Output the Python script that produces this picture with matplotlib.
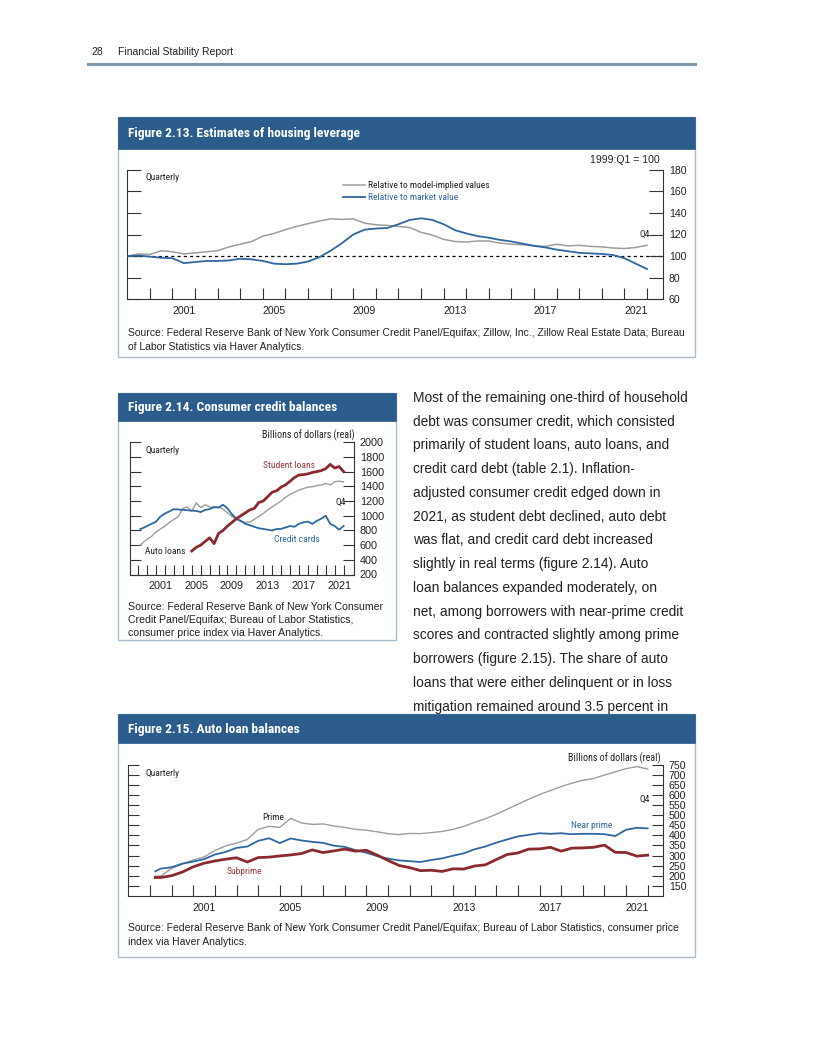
import numpy as np
import matplotlib
matplotlib.use("Agg")
import matplotlib.pyplot as plt
from matplotlib import font_manager as fm
from matplotlib.patches import Rectangle
from matplotlib.lines import Line2D

# ---------------- data ----------------
# Figure 2.13 (semiannual readings, 1999:Q1 = 100)
t13 = np.arange(1999.0, 2022.01, 0.5)
model_implied = [100, 102, 101.5, 105, 104, 102, 103, 104, 105, 108.5, 111, 113.5,
                 118.5, 121, 124.5, 127.5, 130, 132.5, 134.5, 134, 134.5, 130.5, 129, 128.5,
                 127.5, 126.5, 122, 119.5, 115.5, 113.5, 113, 114, 114, 112, 111, 110.5,
                 109.5, 109, 111, 109.5, 110, 109, 108.5, 107.5, 107, 108, 110]
market_value = [100, 100.5, 99.5, 98.5, 98, 93.5, 94.5, 95.5, 95.5, 96, 97.5, 97,
                95.5, 93, 92.5, 93, 95, 99, 105, 112, 120, 124.5, 125.5, 126,
                129.5, 133.5, 135, 133.5, 129.5, 124, 121, 118.5, 117, 115, 113.5, 111.5,
                109.5, 108, 106, 104.5, 103, 102.5, 102, 101, 98, 93, 88]

# Figure 2.14 (billions of real dollars)
t14 = np.concatenate(([1999.25], np.arange(1999.5, 2022.01, 0.5)))
credit_cards = [820, 830, 860, 890, 920, 990, 1030, 1060, 1090, 1085, 1080, 1075,
                1070, 1065, 1050, 1080, 1090, 1120, 1110, 1150, 1100, 1020, 960, 930,
                890, 870, 850, 830, 820, 810, 800, 820, 820, 840, 860, 850,
                890, 910, 920, 890, 930, 960, 1000, 890, 860, 810, 860]
auto_loans = [600, 630, 680, 720, 780, 820, 860, 910, 950, 990, 1100, 1120,
              1060, 1175, 1110, 1150, 1120, 1110, 1120, 1090, 1040, 990, 950, 920,
              910, 915, 950, 990, 1030, 1080, 1120, 1160, 1200, 1250, 1290, 1320,
              1350, 1370, 1390, 1395, 1410, 1420, 1440, 1420, 1465, 1470, 1460]
t14_student = np.arange(2005.0, 2022.01, 0.5)
student_loans = [520, 570, 600, 650, 700, 620, 760, 800, 860, 910, 960, 1000,
                 1040, 1080, 1100, 1180, 1200, 1260, 1320, 1340, 1390, 1420, 1470, 1520,
                 1555, 1560, 1570, 1590, 1600, 1615, 1640, 1700, 1650, 1670, 1600]

# Figure 2.15 (billions of real dollars)
t15 = np.concatenate(([1999.25], np.arange(1999.5, 2022.01, 0.5)))
prime = [198, 198, 236, 258, 278, 293, 325, 348, 362, 380, 430, 445,
         440, 485, 462, 455, 457, 447, 440, 430, 426, 418, 409, 404,
         410, 409, 414, 420, 430, 445, 465, 483, 505, 530, 555, 580,
         603, 623, 643, 660, 674, 683, 700, 716, 732, 742, 730]
near_prime = [222, 235, 242, 260, 270, 282, 305, 318, 338, 345, 373, 386,
              362, 385, 375, 368, 363, 349, 343, 327, 314, 297, 285, 276,
              272, 268, 278, 286, 299, 311, 331, 345, 364, 380, 395, 403,
              411, 408, 411, 406, 408, 408, 406, 397, 428, 438, 435]
subprime = [191, 191, 200, 218, 244, 262, 273, 282, 289, 268, 290, 292,
            298, 303, 310, 328, 315, 323, 332, 322, 326, 302, 276, 251,
            240, 225, 227, 221, 234, 233, 248, 254, 280, 305, 313, 332,
            333, 341, 322, 337, 338, 341, 352, 316, 315, 297, 302]

year_labels = ["2001", "2005", "2009", "2013", "2017", "2021"]
year_label_pos = [2001.5, 2005.5, 2009.5, 2013.5, 2017.5, 2021.5]

# ---------------- style ----------------
W, H = 816, 1056
names = {f.name for f in fm.fontManager.ttflist}


def pick(cands):
    for c in cands:
        if c in names:
            return c
    return "DejaVu Sans"


NARROW = pick(["Liberation Sans Narrow", "Roboto Condensed", "DejaVu Sans"])
SANS = pick(["Liberation Sans", "Arial", "DejaVu Sans"])
plt.rcParams["font.family"] = [SANS, "DejaVu Sans"]

BLUE = "#2f67a0"
RED = "#8a2a2e"
GREY = "#9d9d9d"
BAR = "#2b5c8b"
BORDER = "#a9bdd0"
TXT = "#222222"

fig = plt.figure(figsize=(W / 100, H / 100), dpi=100)


def fx(x):
    return x / W


def fy(y):
    return 1 - y / H


def rect(x0, y0, x1, y1):
    return [x0 / W, 1 - y1 / H, (x1 - x0) / W, (y1 - y0) / H]


def txt(x, y, s, **kw):
    kw.setdefault("va", "center")
    kw.setdefault("color", TXT)
    fig.text(fx(x), fy(y), s, **kw)


def box(x0, y0, x1, y1, bar_h, title):
    fig.add_artist(Rectangle((fx(x0), fy(y1)), (x1 - x0) / W, (y1 - y0) / H,
                             transform=fig.transFigure, facecolor="white",
                             edgecolor=BORDER, lw=1.0, zorder=0))
    fig.add_artist(Rectangle((fx(x0), fy(y0 + bar_h)), (x1 - x0) / W, bar_h / H,
                             transform=fig.transFigure, facecolor=BAR,
                             edgecolor=BAR, lw=0.5, zorder=1))
    txt(x0 + 10, y0 + bar_h / 2 + 0.5, title, color="white", fontsize=9.7,
        fontweight="bold", family=[NARROW, "DejaVu Sans"], zorder=2)


def style_axes(ax, xlim, ylim, yticks, xmajor, ylen, xlen, fs=7.6):
    ax.set_xlim(*xlim)
    ax.set_ylim(*ylim)
    ax.patch.set_alpha(0)
    ax.spines["top"].set_visible(False)
    for s in ["left", "right", "bottom"]:
        ax.spines[s].set_linewidth(0.8)
        ax.spines[s].set_color("#333333")
    ax.yaxis.set_ticks_position("both")
    ax.set_yticks(yticks)
    ax.tick_params(axis="y", which="major", direction="in", length=ylen, width=0.8,
                   color="#333333", labelleft=False, labelright=True,
                   labelsize=fs, pad=4, labelcolor=TXT)
    ax.set_xticks(xmajor)
    ax.set_xticks(year_label_pos, minor=True)
    ax.set_xticklabels(year_labels, minor=True)
    ax.tick_params(axis="x", which="major", direction="in", length=xlen, width=0.8,
                   color="#333333", labelbottom=False, top=False)
    ax.tick_params(axis="x", which="minor", length=0, labelsize=fs, pad=5,
                   labelcolor=TXT)


# ---------------- page header ----------------
txt(91, 52, "28", fontsize=7.5)
txt(118, 52, "Financial Stability Report", fontsize=7.5)
fig.add_artist(Line2D([fx(88), fx(695)], [fy(64), fy(64)], color="#7d97ab",
                      lw=2.2, transform=fig.transFigure))

# ---------------- Figure 2.13 ----------------
box(118, 117, 695, 357, 32, "Figure 2.13. Estimates of housing leverage")
ax1 = fig.add_axes(rect(127.3, 169.7, 663.3, 299.3))
style_axes(ax1, (1999.0, 2022.72), (60, 180), np.arange(60, 181, 20),
           np.arange(2000, 2023), 10, 8)
ax1.axhline(100, color="black", lw=0.9, ls=(0, (2.5, 2.5)), zorder=1)
ax1.plot(t13, model_implied, color=GREY, lw=1.1, zorder=2)
ax1.plot(t13, market_value, color=BLUE, lw=1.3, zorder=3)
txt(660, 160, "1999:Q1 = 100", fontsize=7.6, ha="right")
txt(145, 177, "Quarterly", fontsize=6.8, family=[NARROW, "DejaVu Sans"])
fig.add_artist(Line2D([fx(343), fx(365)], [fy(185), fy(185)], color=GREY, lw=1.1,
                      transform=fig.transFigure))
fig.add_artist(Line2D([fx(343), fx(365)], [fy(197), fy(197)], color=BLUE, lw=1.3,
                      transform=fig.transFigure))
txt(368, 185, "Relative to model-implied values", fontsize=6.8,
    family=[NARROW, "DejaVu Sans"])
txt(368, 197, "Relative to market value", fontsize=6.8, color=BLUE,
    family=[NARROW, "DejaVu Sans"])
txt(645, 234, "Q4", fontsize=6.8, ha="center", family=[NARROW, "DejaVu Sans"])
txt(128, 333, "Source: Federal Reserve Bank of New York Consumer Credit Panel/Equifax; "
    "Zillow, Inc., Zillow Real Estate Data; Bureau", fontsize=7.5)
txt(128, 347, "of Labor Statistics via Haver Analytics.", fontsize=7.5)

# ---------------- Figure 2.14 ----------------
box(118, 393, 396, 640, 28, "Figure 2.14. Consumer credit balances")
ax2 = fig.add_axes(rect(129.7, 442.3, 354.3, 574.5))
style_axes(ax2, (1998.05, 2023.2), (200, 2000), np.arange(200, 2001, 200),
           np.arange(1999, 2023), 8, 7, fs=7.8)
ax2.plot(t14, auto_loans, color=GREY, lw=1.0, zorder=2)
ax2.plot(t14, credit_cards, color=BLUE, lw=1.3, zorder=3)
ax2.plot(t14_student, student_loans, color=RED, lw=2.0, zorder=4)
txt(355, 435, "Billions of dollars (real)", fontsize=7.2, ha="right",
    family=[NARROW, "DejaVu Sans"])
txt(146, 451, "Quarterly", fontsize=6.8, family=[NARROW, "DejaVu Sans"])
txt(263, 466, "Student loans", fontsize=6.8, color="#9a3b3f",
    family=[NARROW, "DejaVu Sans"])
txt(346, 502, "Q4", fontsize=6.8, ha="right", family=[NARROW, "DejaVu Sans"])
txt(274, 540, "Credit cards", fontsize=6.8, color=BLUE, family=[NARROW, "DejaVu Sans"])
txt(145, 551, "Auto loans", fontsize=6.8, family=[NARROW, "DejaVu Sans"])
txt(128, 607, "Source: Federal Reserve Bank of New York Consumer", fontsize=7.6)
txt(128, 620, "Credit Panel/Equifax; Bureau of Labor Statistics,", fontsize=7.6)
txt(128, 633, "consumer price index via Haver Analytics.", fontsize=7.6)

# ---------------- body text ----------------
body = [
    "Most of the remaining one-third of household",
    "debt was consumer credit, which consisted",
    "primarily of student loans, auto loans, and",
    "credit card debt (table 2.1). Inflation-",
    "adjusted consumer credit edged down in",
    "2021, as student debt declined, auto debt",
    "was flat, and credit card debt increased",
    "slightly in real terms (figure 2.14). Auto",
    "loan balances expanded moderately, on",
    "net, among borrowers with near-prime credit",
    "scores and contracted slightly among prime",
    "borrowers (figure 2.15). The share of auto",
    "loans that were either delinquent or in loss",
    "mitigation remained around 3.5 percent in",
]
for i, line in enumerate(body):
    txt(413, 398 + 23.75 * i, line, fontsize=9.95)

# ---------------- Figure 2.15 ----------------
box(118, 714, 695, 957, 29, "Figure 2.15. Auto loan balances")
ax3 = fig.add_axes(rect(128.3, 765, 663.3, 895.8))
style_axes(ax3, (1998.0, 2022.72), (100, 750), np.arange(150, 751, 50),
           np.arange(1999, 2023), 8, 8, fs=7.6)
ax3.plot(t15, prime, color=GREY, lw=1.0, zorder=2)
ax3.plot(t15, near_prime, color=BLUE, lw=1.3, zorder=3)
ax3.plot(t15, subprime, color=RED, lw=2.0, zorder=4)
txt(661, 758, "Billions of dollars (real)", fontsize=7.2, ha="right",
    family=[NARROW, "DejaVu Sans"])
txt(145, 774, "Quarterly", fontsize=6.8, family=[NARROW, "DejaVu Sans"])
txt(645, 799, "Q4", fontsize=6.8, ha="center", family=[NARROW, "DejaVu Sans"])
txt(273, 818, "Prime", fontsize=6.8, ha="center", family=[NARROW, "DejaVu Sans"])
txt(592, 826, "Near prime", fontsize=6.8, ha="center", color=BLUE,
    family=[NARROW, "DejaVu Sans"])
txt(244, 871, "Subprime", fontsize=6.8, ha="center", color="#9a3b3f",
    family=[NARROW, "DejaVu Sans"])
txt(128, 928, "Source: Federal Reserve Bank of New York Consumer Credit Panel/Equifax; "
    "Bureau of Labor Statistics, consumer price", fontsize=7.5)
txt(128, 942, "index via Haver Analytics.", fontsize=7.5)

fig.savefig("out.png", dpi=100)
